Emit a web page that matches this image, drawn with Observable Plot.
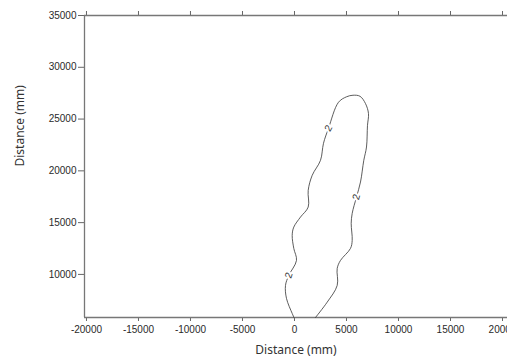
<!DOCTYPE html>
<html>
<head>
<meta charset="utf-8">
<script src="https://cdn.jsdelivr.net/npm/d3@7"></script>
<script src="https://cdn.jsdelivr.net/npm/@observablehq/plot@0.6"></script>
<style>
  html, body { margin: 0; padding: 0; background: #fff; overflow: hidden; }
  #chart svg { display: block; }
</style>
</head>
<body>
<div id="chart"></div>
<script>
// Contour line (level 2), traced from bottom-left, over the top, down to bottom-right
const contourX = [-50, -221, -769, -865, -548, 192, -67, -221, -67, 577, 1317, 1317, 1702, 2500, 2788, 3269, 4231, 5000, 5625, 6300, 6827, 7115, 7019, 6923, 6663, 6346, 5961, 5548, 5452, 5548, 5384, 4423, 4106, 4106, 3144, 2019];
const contourY = [5840, 6230, 7680, 8936, 9903, 11352, 12512, 13768, 14570, 15537, 16503, 18117, 19567, 21016, 22659, 24109, 26621, 27150, 27300, 27200, 26496, 25529, 24399, 22300, 21016, 18919, 17469, 15894, 14928, 13285, 12512, 11352, 10579, 8936, 7322, 5840];
const labelX = [3269, 5961, -548];
const labelY = [24109, 17469, 9903];
const labelAngle = [-62, -75, -72];
const labelText = ["2", "2", "2"];
const xTicks = [-20000, -15000, -10000, -5000, 0, 5000, 10000, 15000, 20000];
const yTicks = [10000, 15000, 20000, 25000, 30000, 35000];
const xTitle = "Distance (mm)";
const yTitle = "Distance (mm)";

const contour = contourX.map((x, i) => ({x, y: contourY[i]}));
const labels = labelX.map((x, i) => ({x, y: labelY[i], a: labelAngle[i], t: labelText[i]}));

const xDomain = [-20190, 20480];
const yDomain = [5840, 35000];
const tickFont = "'Liberation Sans', Arial, Helvetica, sans-serif";
const titleFont = "'Noto Sans', 'Open Sans', sans-serif";
const fmt = d => String(d);

const chart = Plot.plot({
  width: 507,
  height: 364,
  marginLeft: 84,
  marginRight: 0,
  marginTop: 15,
  marginBottom: 47,
  style: {fontFamily: tickFont, fontSize: "10px", color: "#2a2a2a", background: "#fff"},
  x: {domain: xDomain},
  y: {domain: yDomain},
  marks: [
    Plot.axisX({anchor: "bottom", ticks: xTicks, tickSize: 4, tickPadding: 4, tickFormat: fmt, label: null, stroke: "#666", fontFamily: tickFont, fontSize: 10}),
    Plot.axisX({anchor: "top", ticks: xTicks, tickSize: 5, tickFormat: () => "", label: null, stroke: "#666"}),
    Plot.axisY({anchor: "left", ticks: yTicks, tickSize: 6, tickPadding: 2, tickFormat: fmt, label: null, stroke: "#666", fontFamily: tickFont, fontSize: 10}),
    Plot.ruleX([xDomain[0]], {stroke: "#777", strokeWidth: 1.3}),
    Plot.ruleY([yDomain[0]], {stroke: "#777", strokeWidth: 1.3}),
    Plot.ruleY([yDomain[1]], {stroke: "#777", strokeWidth: 1.3}),
    Plot.line(contour, {x: "x", y: "y", stroke: "#333", strokeWidth: 0.8, curve: "catmull-rom"}),
    Plot.text(labels, {x: "x", y: "y", text: "t", rotate: "a", fontSize: 10, fontFamily: tickFont, fill: "#333", stroke: "white", strokeWidth: 4}),
    Plot.text([xTitle], {frameAnchor: "bottom", dy: 36, fontFamily: titleFont, fontSize: 12, fill: "#333"}),
    Plot.text([yTitle], {frameAnchor: "left", dx: -64, rotate: -90, fontFamily: titleFont, fontSize: 12, fill: "#333"})
  ]
});
document.getElementById("chart").appendChild(chart);
</script>
</body>
</html>
